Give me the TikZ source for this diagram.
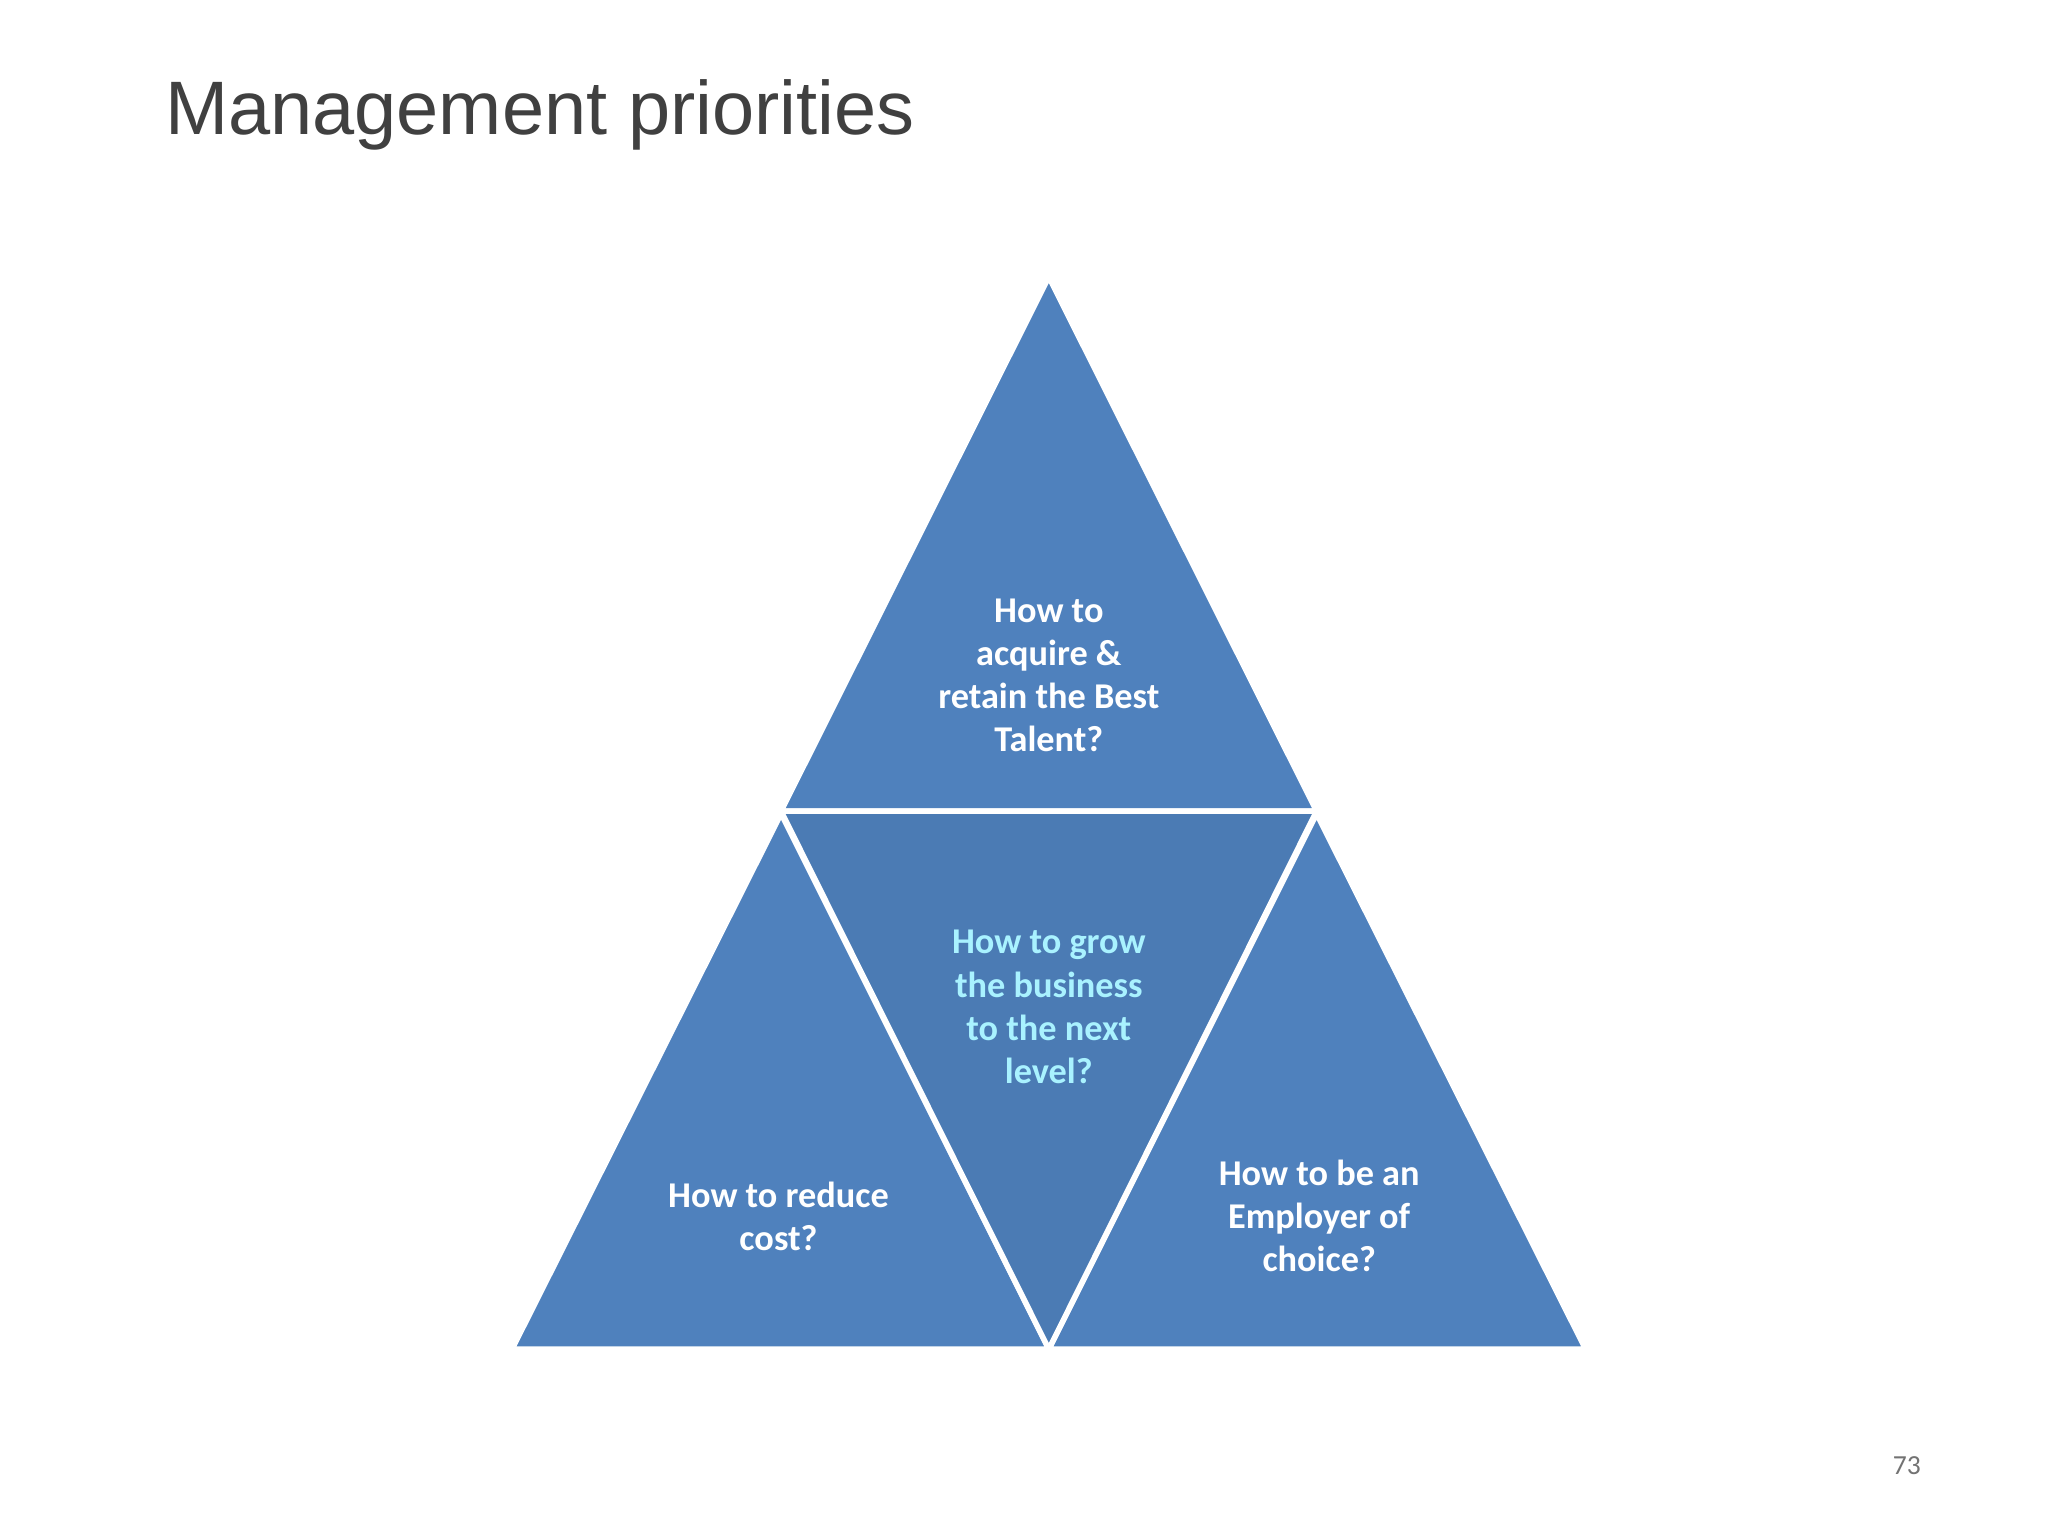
\documentclass[tikz,border=0pt]{standalone}
\usepackage{fontspec}
\setmainfont{Carlito}
\newfontfamily\titlefont{Liberation Sans}
\begin{document}
\begin{tikzpicture}[x=0.01cm,y=-0.01cm,
  tri/.style={fill=tblue,draw=white,line width=1.2pt,line join=miter},
  lbl/.style={text=white,font=\bfseries\fontsize{7.9}{9.4}\selectfont,align=center}]
\definecolor{tblue}{HTML}{4F81BD}
\definecolor{tcyan}{HTML}{A9F2FF}
\useasboundingbox (0,0) rectangle (1568,1176);
\fill[white] (0,0) rectangle (1568,1176);
\node[anchor=west,text=black!75,font=\titlefont\fontsize{16.5}{18}\selectfont] (title) at (114,88) {Management priorities};
\fill[tblue] (803,212) -- (1008,621) -- (598,621) -- cycle;
\draw[tri] (803,212) -- (1008,621) -- (598,621) -- cycle;
\draw[tri] (598,623) -- (803,1033) -- (392,1033) -- cycle;
\draw[tri] (1008,623) -- (1214,1033) -- (803,1033) -- cycle;
\draw[tri,fill=tblue!95!black] (598,621) -- (1008,621) -- (803,1033) -- cycle;
\node[lbl] (top) at (803,517) {How to\\acquire \&\\retain the Best\\Talent?};
\node[lbl,text=tcyan] (mid) at (803,771) {How to grow\\the business\\to the next\\level?};
\node[lbl] (left) at (596,931) {How to reduce\\cost?};
\node[lbl] (right) at (1010,931) {How to be an\\Employer of\\choice?};
\node[text=black!55,font=\fontsize{6}{7}\selectfont] (pg) at (1460,1122) {73};
\end{tikzpicture}
\end{document}
